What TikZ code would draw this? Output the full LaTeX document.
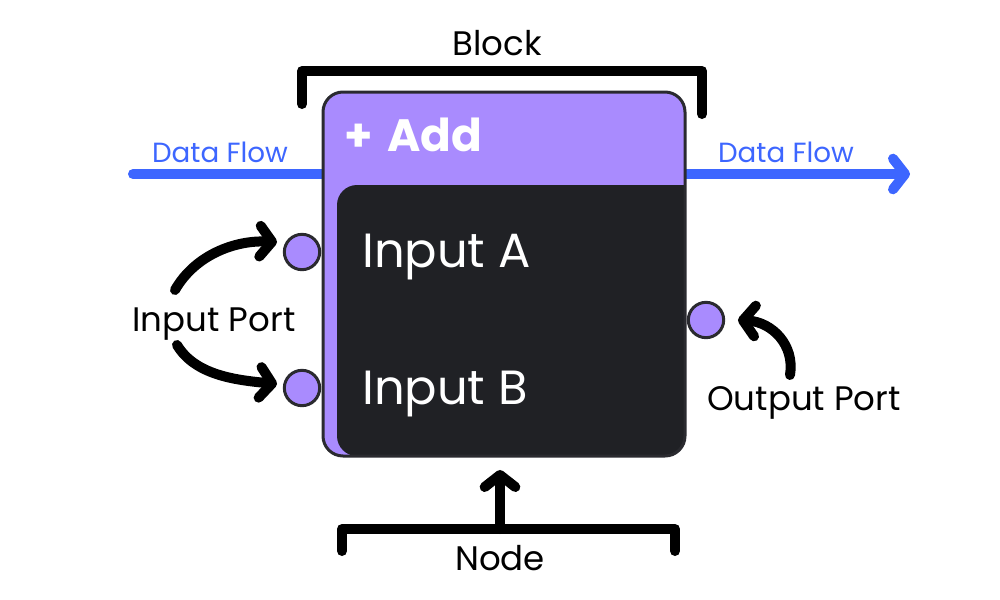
\documentclass[tikz,border=0pt]{standalone}
\usepackage{fontspec}
\setmainfont{Poppins}
\usetikzlibrary{arrows.meta}
\definecolor{npurple}{HTML}{A98BFE}
\definecolor{ndark}{HTML}{202125}
\definecolor{nborder}{HTML}{2A2A2F}
\definecolor{flowblue}{HTML}{3D66FF}
\tikzset{
  boxshape/.style={rectangle, rounded corners=15pt, minimum width=271.5pt, minimum height=273pt, inner sep=0pt},
  flowline/.style={flowblue, line width=7.5pt, line cap=round},
  blackline/.style={black, line width=7.5pt, line cap=round, line join=round},
  barb/.style={-{Straight Barb[round, length=9pt, width=23pt]}},
  port/.style={circle, fill=npurple, draw=nborder, line width=2.25pt, minimum size=26.5pt, inner sep=0pt},
  flowlabel/.style={text=flowblue, font=\fontsize{20.8}{24}\selectfont, inner sep=0pt},
  label/.style={text=black, font=\fontsize{25.5}{28}\selectfont, inner sep=0pt},
  intext/.style={text=white, font=\fontsize{36}{40}\selectfont, inner sep=0pt, anchor=base west},
}
\begin{document}
\begin{tikzpicture}[x=0.75pt, y=-0.75pt]
\useasboundingbox (0,0) rectangle (1000,600);
% invisible box for naming
\node[boxshape] (box) at (504,274) {};
% data flow lines (under the box)
\coordinate (dfL) at (133,174);
\coordinate (dfR) at (910,174);
\draw[flowline] (dfL) -- (dfL -| box.center);
\draw[flowline, barb] (dfR -| box.center) -- (dfR);
% box body
\begin{scope}
  \clip[rounded corners=15pt] (box.north west) rectangle (box.south east);
  \fill[npurple] (box.north west) rectangle (box.south east);
  \fill[ndark, rounded corners=15pt] (337,185) rectangle (720,456);
  \fill[ndark] (600,185) rectangle (720,500);
\end{scope}
\node[boxshape, draw=nborder, line width=2.25pt] at (box.center) {};
% texts in the box
\node[text=white, font=\bfseries\fontsize{34}{38}\selectfont, inner sep=0pt, anchor=base west] (add) at (344,151) {+\hspace{11pt}Add};
\node[intext] (inA) at (362,267) {Input A};
\node[intext] (inB) at (362,404) {Input B};
% ports
\node[port] (pA) at (302,252) {};
\node[port] (pB) at (302,388) {};
\node[port] (pO) at (706,320) {};
% labels
\node[flowlabel, anchor=base] (dfl1) at (220,162) {Data Flow};
\node[flowlabel, anchor=base] (dfl2) at (786,162) {Data Flow};
\node[label, anchor=base] (blk) at (497,55) {Block};
\node[label, anchor=base] (ip) at (214,331) {Input Port};
\node[label, anchor=base] (op) at (804,410) {Output Port};
\node[label, anchor=base] (nd) at (500,570) {Node};
% block bracket
\coordinate (bk1) at (302,104);
\coordinate (bk2) at (302,71);
\coordinate (bk3) at (702,71);
\coordinate (bk4) at (702,114);
\draw[blackline] (bk1) -- (bk2) -- (bk3) -- (bk4);
% node bracket
\coordinate (nb1) at (342,551);
\coordinate (nb2) at (342,529);
\coordinate (nb3) at (675,529);
\coordinate (nb4) at (675,551);
\coordinate (nbm) at (500,529);
\coordinate (nbt) at (500,470);
\draw[blackline] (nb1) -- (nb2) -- (nb3) -- (nb4);
\draw[blackline, barb] (nbm) -- (nbt);
% port arrows
\coordinate (ia1) at (175,290);
\coordinate (ia2) at (277,242);
\coordinate (ib1) at (177,345);
\coordinate (ib2) at (277,384);
\coordinate (oa1) at (790,375);
\coordinate (oa2) at (738,320);
\draw[blackline, barb] (ia1) .. controls (195,255) and (235,240) .. (ia2);
\draw[blackline, barb] (ib1) .. controls (195,375) and (235,380) .. (ib2);
\draw[blackline, barb] (oa1) .. controls (795,345) and (772,322) .. (oa2);
\end{tikzpicture}
\end{document}
